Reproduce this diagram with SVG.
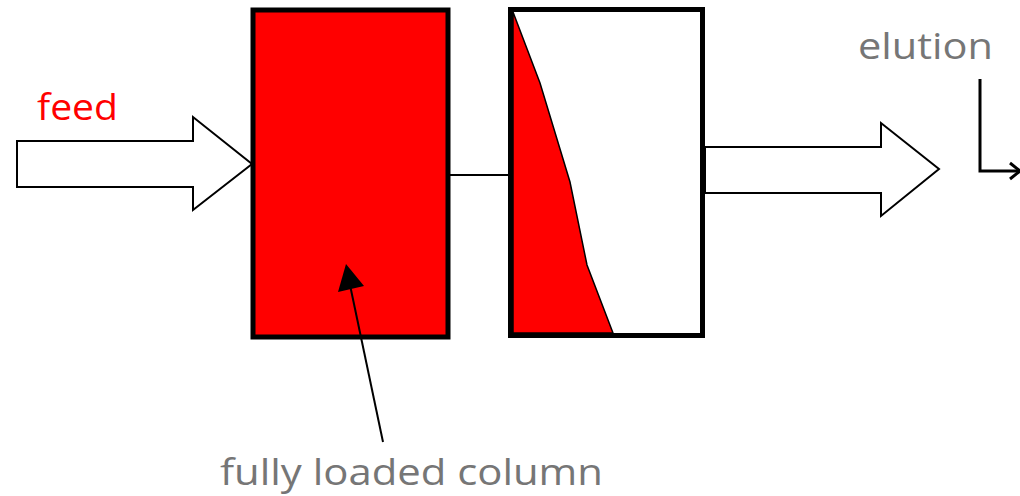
<svg xmlns="http://www.w3.org/2000/svg" width="1020" height="496" viewBox="0 0 1020 496">
<style>
.lbl{font-family:"Open Sans","Liberation Sans",sans-serif;font-size:37px}
.gray{fill:#767676}
.col{stroke:#000;stroke-width:5}
.hollow{fill:#fff;stroke:#000;stroke-width:2}
</style>
<rect width="1020" height="496" fill="#fff"/>
<g id="feed">
<polygon class="hollow" points="17,141 193,141 193,117 252,164 193,210 193,187 17,187"/>
<text class="lbl" x="37" y="120" fill="#ff0000" textLength="81" lengthAdjust="spacingAndGlyphs">feed</text>
</g>
<g id="column1">
<rect class="col" x="253" y="10" width="195" height="327" fill="#ff0000"/>
</g>
<g id="column2">
<rect class="col" x="510.5" y="9.5" width="192" height="326" fill="#fff"/>
<polygon points="513,12 540,83 570,182 587,265 613,333 513,333" fill="#ff0000" stroke="#000" stroke-width="1.5"/>
</g>
<g id="output">
<polygon class="hollow" points="705,147 881,147 881,123 939,169 881,216 881,193 705,193"/>
</g>
<g id="elution">
<text class="lbl gray" x="858" y="59" textLength="135" lengthAdjust="spacingAndGlyphs">elution</text>
<path d="M980,79 L980,171 L1019,171" fill="none" stroke="#000" stroke-width="3"/>
<path d="M1010,163 L1020,171 L1010,179" fill="none" stroke="#000" stroke-width="3"/>
</g>
<g id="label">
<text class="lbl gray" x="220" y="485" textLength="383" lengthAdjust="spacingAndGlyphs">fully loaded column</text>
</g>
<g id="connectors">
<line x1="448" y1="175" x2="510" y2="175" stroke="#000" stroke-width="2"/>
<polygon points="346,264 364,286 338,292" fill="#000"/>
<line x1="383" y1="442" x2="350" y2="285" stroke="#000" stroke-width="2"/>
</g>
</svg>
